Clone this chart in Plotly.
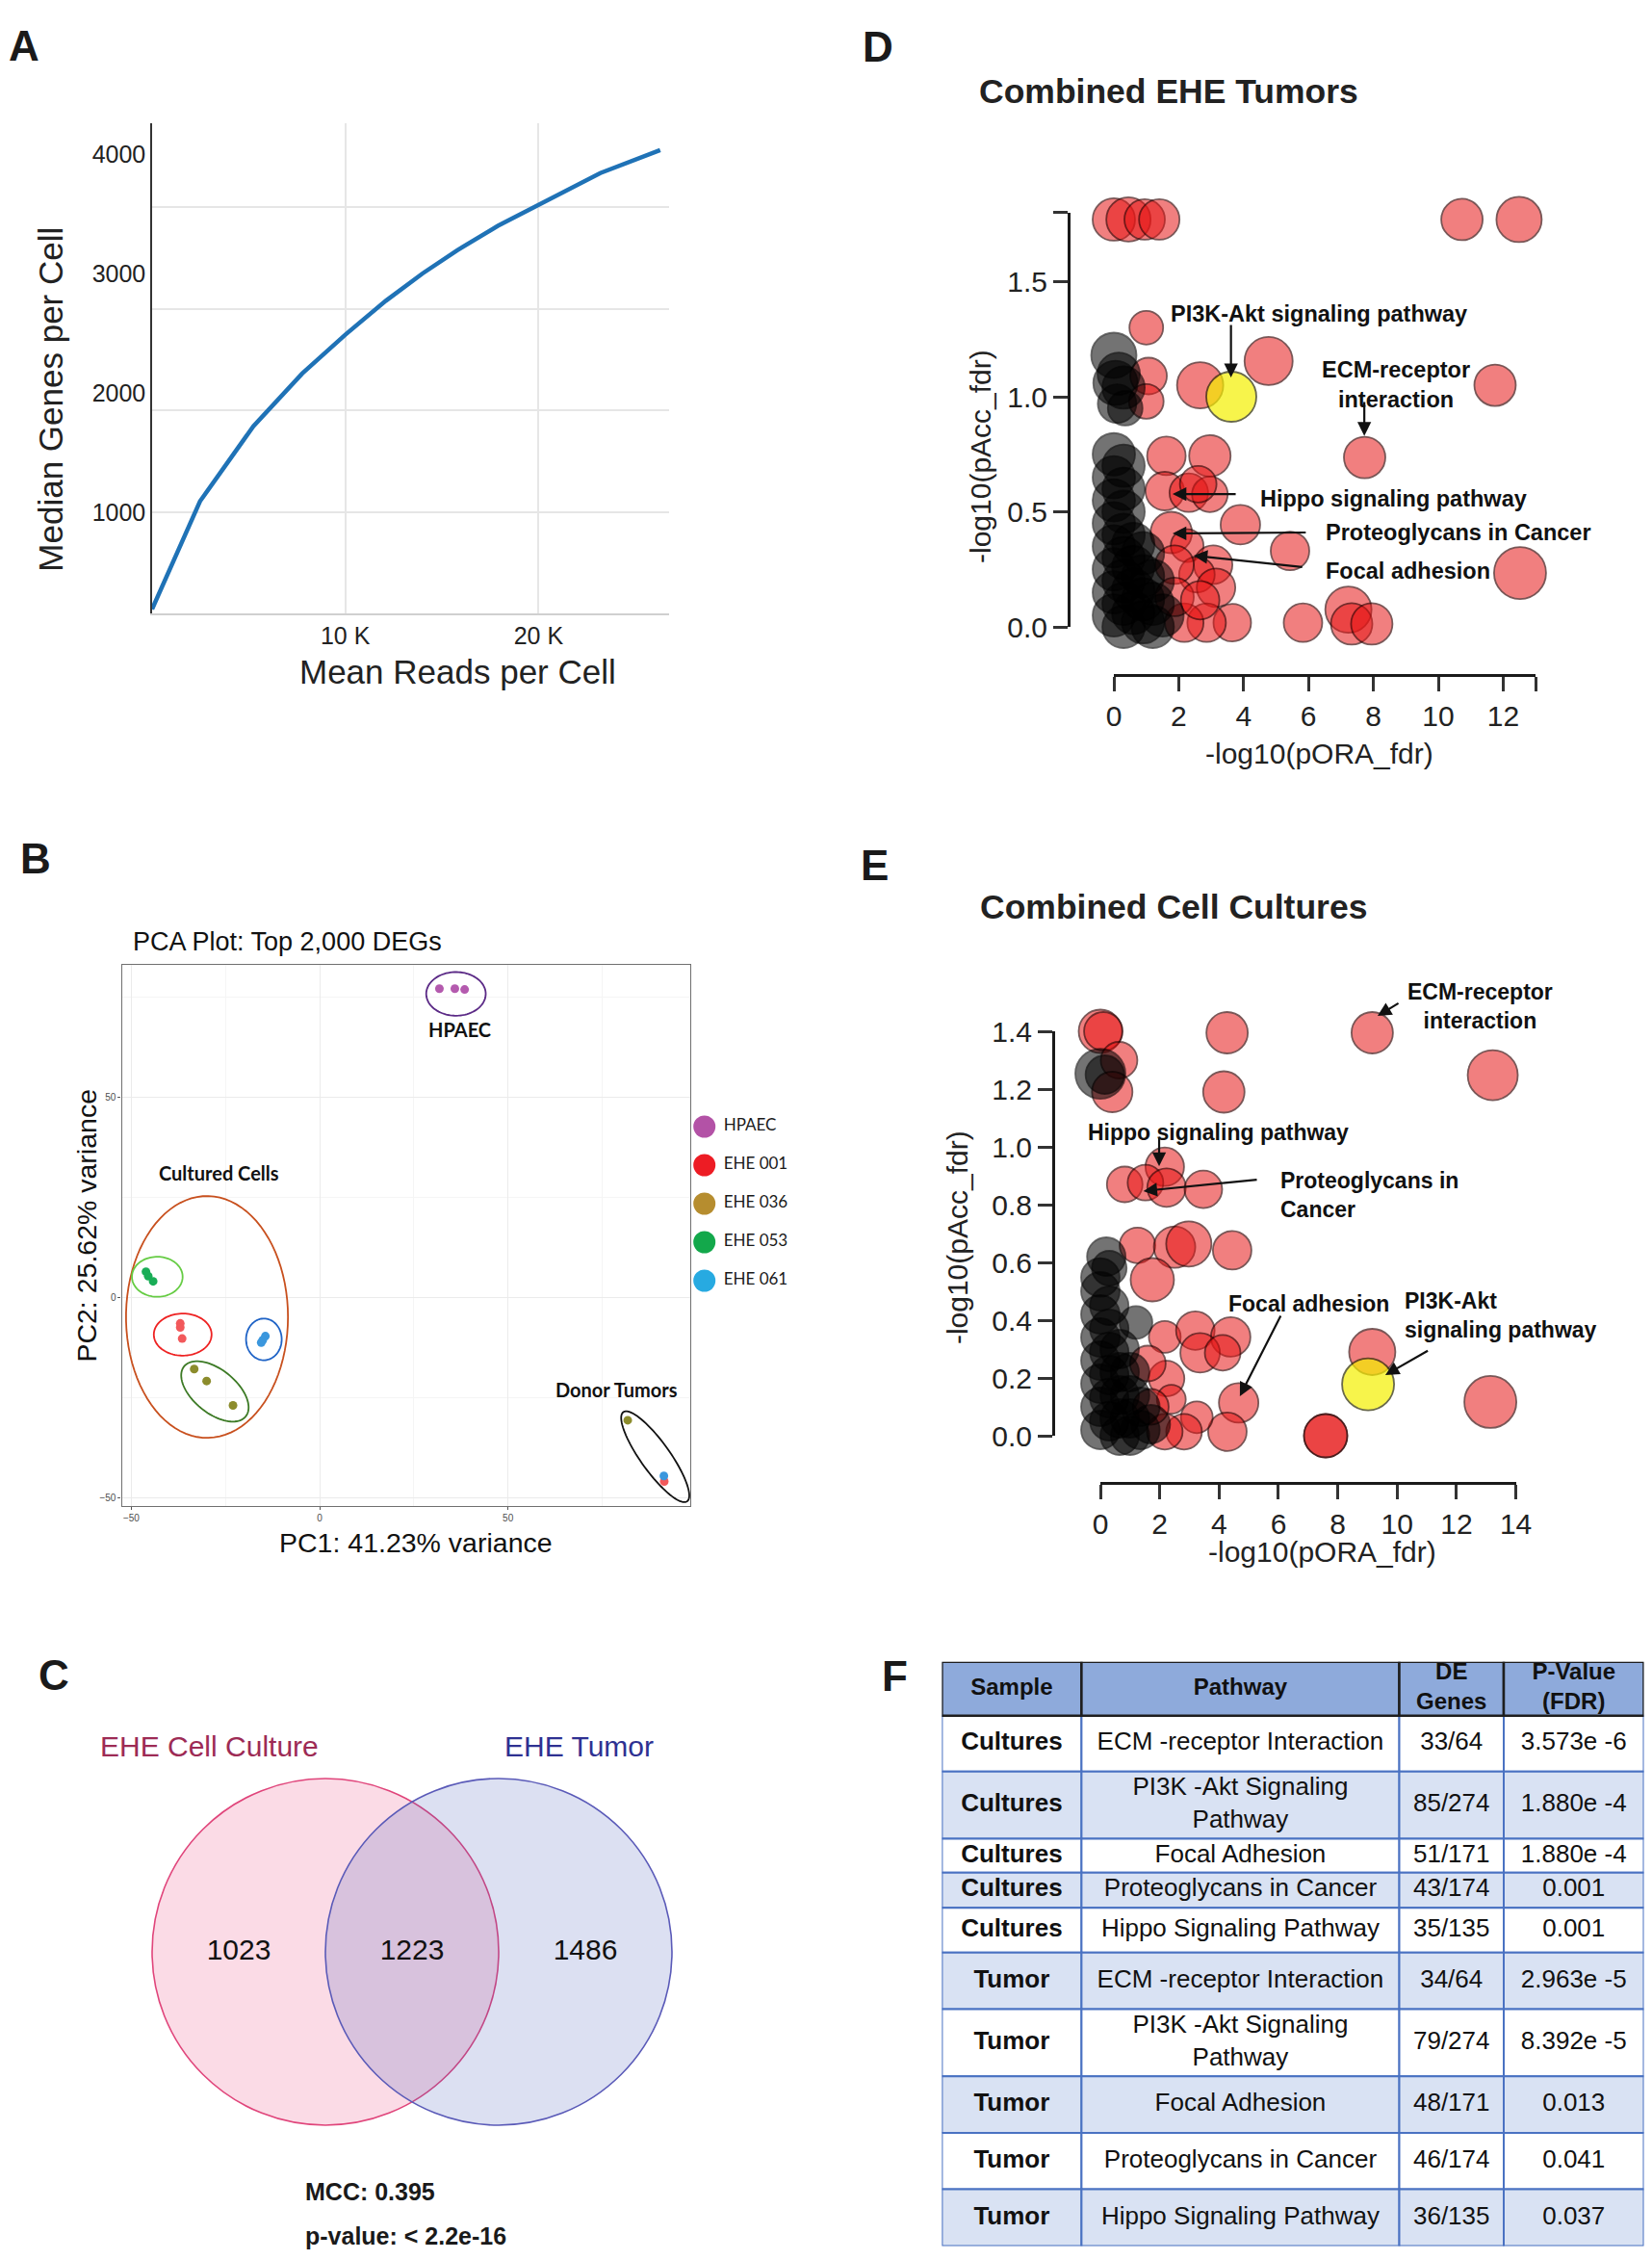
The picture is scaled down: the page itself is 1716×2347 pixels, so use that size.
import numpy as np
import plotly.graph_objects as go

# The page body keeps its default 8 px margin, so the figure is placed 8 px in
# from the top-left corner; all reference pixel positions are corrected for it.
OFF = 8
FIG_W, FIG_H = 1700, 2331
def px(v): return (v - OFF) / FIG_W
def py(v): return 1 - (v - OFF) / FIG_H

ARIAL = "Liberation Sans, Arial, sans-serif"
CALIBRI = "Lato, Carlito, sans-serif"
INK = "#222222"

# ======================= DATA =======================
# A: sequencing saturation curve
reads_per_cell = [0, 2480, 5240, 7770, 10000, 12100, 14000, 15800, 17900, 20000, 20900, 23200, 26300]
median_genes = [188, 1092, 1720, 2162, 2487, 2771, 3000, 3195, 3399, 3576, 3657, 3841, 4033]
a_ytick_vals = [1000, 2000, 3000, 4000]
a_xtick_vals = [10000, 20000]
a_xtick_text = ["10 K", "20 K"]

# B: PCA
pca_groups = ["HPAEC", "EHE 001", "EHE 036", "EHE 053", "EHE 061"]
hpaec_pc1 = [31.8, 35.9, 38.5]
hpaec_pc2 = [77.2, 77.2, 77.0]
ehe001_pc1 = [-37.0, -37.0, -36.5, 91.5]
ehe001_pc2 = [-6.4, -7.4, -10.2, -45.9]
ehe036_pc1 = [-33.3, -30.0, -23.0, 81.8]
ehe036_pc2 = [-17.8, -20.8, -26.9, -30.6]
ehe053_pc1 = [-46.1, -45.5, -44.2]
ehe053_pc2 = [6.5, 5.4, 4.1]
ehe061_pc1 = [-14.4, -15.1, -15.5, 91.4]
ehe061_pc2 = [-9.6, -10.6, -11.2, -44.5]
pca_ticks = [-50, 0, 50]

# C: Venn
venn_sets = ["EHE Cell Culture", "EHE Tumor"]
venn_counts = [1023, 1223, 1486]   # culture only, shared, tumor only
venn_stats = ["MCC: 0.395", "p-value: < 2.2e-16"]

# D: Combined EHE Tumors bubbles
d_red_x = [0.0, 0.45, 0.95, 1.4, 10.73, 12.49,
           1.0, 1.07, 1.0, 2.66, 4.77, 11.75,
           7.73, 1.62, 2.96, 1.57, 2.31, 2.96, 2.6, 3.9, 5.43, 12.52,
           1.77, 2.26, 3.06, 2.56, 3.15, 1.87, 3.65, 2.86, 2.17, 1.87, 2.66, 5.83, 7.23, 7.33, 7.95]
d_red_y = [1.77, 1.77, 1.77, 1.77, 1.77, 1.77,
           1.30, 1.09, 0.98, 1.05, 1.155, 1.05,
           0.736, 0.743, 0.743, 0.59, 0.583, 0.576, 0.62, 0.444, 0.33, 0.234,
           0.41, 0.353, 0.27, 0.227, 0.17, 0.27, 0.018, 0.018, 0.018, 0.13, 0.116, 0.018, 0.075, 0.013, 0.013]
d_red_s = [44, 46, 42, 42, 43, 47,
           35, 38, 36, 48, 50, 43,
           43, 40, 43, 40, 40, 37, 38, 41, 40, 54,
           43, 34, 40, 37, 40, 40, 39, 40, 40, 40, 40, 40, 48, 43, 43]
d_blk_x = [-0.16, 0.0, 0.05, 0.3, 0.1, 0.35, 0.15,
           -0.3, -0.3, -0.3, -0.3, -0.3, -0.3, -0.3, -0.3,
           0.0, 0.0, 0.0, 0.0, 0.0, 0.0, 0.0, 0.0, 0.0,
           0.3, 0.3, 0.3, 0.3, 0.3, 0.3, 0.3, 0.3,
           0.6, 0.6, 0.6, 0.6, 0.6,
           0.9, 0.9, 0.9, 0.9,
           1.2, 1.2, 1.2, 1.5, -0.35]
d_blk_y = [1.33, 1.18, 1.06, 1.04, 0.97, 0.95, 1.1,
           0.7, 0.6, 0.5, 0.4, 0.3, 0.2, 0.1, 0.0,
           0.75, 0.65, 0.55, 0.45, 0.35, 0.25, 0.15, 0.05, -0.04,
           0.7, 0.6, 0.5, 0.4, 0.3, 0.2, 0.1, 0.0,
           0.36, 0.26, 0.16, 0.06, -0.03,
           0.32, 0.22, 0.12, 0.02,
           0.2, 0.1, 0.0, 0.05, -0.03]
d_blk_s = [47, 47, 46, 44, 40, 36, 44,
           44, 44, 44, 44, 44, 44, 44, 44,
           44, 44, 44, 44, 44, 44, 44, 44, 44,
           44, 44, 44, 44, 44, 44, 44, 44,
           44, 44, 44, 44, 44,
           44, 44, 44, 44,
           44, 44, 44, 44, 48]
d_yel_x = [3.62]
d_yel_y = [1.0]
d_yel_s = [52]

# E: Combined Cell Cultures bubbles
e_red_x = [0.0, 0.1, 0.68, 0.63, 0.4, 4.27, 4.16, 9.16, 13.22,
           2.17, 0.82, 1.52, 2.23, 3.47, 1.25, 2.5, 2.98, 4.44, 1.75,
           2.17, 3.2, 4.39, 3.36, 4.12, 2.23, 4.66, 4.28, 3.25, 2.39, 2.82, 2.17, 1.7, 1.6,
           9.16, 13.14, 7.59, 7.59]
e_red_y = [1.40, 1.40, 1.41, 1.30, 1.19, 1.395, 1.19, 1.395, 1.248,
           0.931, 0.87, 0.876, 0.859, 0.853, 0.659, 0.653, 0.664, 0.642, 0.54,
           0.342, 0.364, 0.342, 0.287, 0.287, 0.198, 0.114, 0.014, 0.064, 0.126, 0.014, 0.014, 0.1, 0.25,
           0.29, 0.117, 0.0, 0.0]
e_red_s = [45, 40, 42, 38, 42, 43, 43, 43, 52,
           40, 37, 37, 40, 39, 37, 43, 47, 40, 45,
           33, 40, 41, 41, 37, 37, 41, 40, 33, 30, 37, 37, 37, 37,
           48, 54, 45, 45]
e_blk_x = [0.0, 0.15, -0.15, -0.1, -0.1, 0.2, 0.0, 0.3, 1.2, -0.42,
           -0.3, -0.3, -0.3, -0.3, -0.3, -0.3, -0.3,
           0.0, 0.0, 0.0, 0.0, 0.0, 0.0, 0.0,
           0.3, 0.3, 0.3, 0.3, 0.3, 0.3, 0.3,
           0.65, 0.65, 0.65, 0.65, 0.65,
           1.0, 1.0, 1.0, 1.0,
           1.35, 1.35, 1.7]
e_blk_y = [1.253, 1.25, 0.87, 0.77, 0.648, 0.62, 0.548, 0.58, 0.392, -0.008,
           0.45, 0.37, 0.29, 0.21, 0.13, 0.05, -0.01,
           0.5, 0.42, 0.34, 0.26, 0.18, 0.10, 0.02,
           0.45, 0.37, 0.29, 0.21, 0.13, 0.05, -0.01,
           0.3, 0.22, 0.14, 0.06, 0.0,
           0.22, 0.14, 0.06, 0.0,
           0.1, 0.02, 0.04]
e_blk_s = [52, 40, 37, 40, 53, 40, 40, 36, 34, 46,
           40, 40, 40, 40, 40, 40, 40,
           40, 40, 40, 40, 40, 40, 40,
           40, 40, 40, 40, 40, 40, 40,
           40, 40, 40, 40, 40,
           40, 40, 40, 40,
           40, 40, 40]
e_yel_x = [9.02]
e_yel_y = [0.178]
e_yel_s = [54]

# F: table
tbl_header = ["Sample", "Pathway", "DE<br>Genes", "P-Value<br>(FDR)"]
tbl_sample = ["Cultures", "Cultures", "Cultures", "Cultures", "Cultures",
              "Tumor", "Tumor", "Tumor", "Tumor", "Tumor"]
tbl_pathway = ["ECM -receptor Interaction", "PI3K -Akt Signaling<br>Pathway", "Focal Adhesion",
               "Proteoglycans in Cancer", "Hippo Signaling Pathway",
               "ECM -receptor Interaction", "PI3K -Akt Signaling<br>Pathway", "Focal Adhesion",
               "Proteoglycans in Cancer", "Hippo Signaling Pathway"]
tbl_de = ["33/64", "85/274", "51/171", "43/174", "35/135",
          "34/64", "79/274", "48/171", "46/174", "36/135"]
tbl_p = ["3.573e -6", "1.880e -4", "1.880e -4", "0.001", "0.001",
         "2.963e -5", "8.392e -5", "0.013", "0.041", "0.037"]

# ======================= STYLE / LAYOUT CONSTANTS =======================
pt_colors = {"HPAEC": "#b45aae", "EHE 001": "#f2595b", "EHE 036": "#8c8c2c",
             "EHE 053": "#19ad56", "EHE 061": "#3b97dd"}
leg_colors = {"HPAEC": "#b352a6", "EHE 001": "#ed1c24", "EHE 036": "#b68d2f",
              "EHE 053": "#13a84b", "EHE 061": "#27aae1"}

# pixel geometry of the two bubble panels (origin px, px per unit)
D_X0, D_XS, D_Y0, D_YS = 1157.0, 33.7, 651.0, 239.0
E_X0, E_XS, E_Y0, E_YS = 1143.0, 30.83, 1491.0, 300.0

fig = go.Figure()

# ---------------- Panel A ----------------
fig.add_trace(go.Scatter(x=reads_per_cell, y=median_genes, xaxis="x", yaxis="y2",
                         mode="lines", line=dict(width=0, color="rgba(0,0,0,0)"),
                         hoverinfo="skip", showlegend=False))
fig.add_trace(go.Scatter(x=reads_per_cell, y=median_genes, xaxis="x", yaxis="y",
                         mode="lines", line=dict(color="#1f72b6", width=4.5),
                         hoverinfo="skip", showlegend=False))

# ---------------- Panel B ----------------
pca_x = [hpaec_pc1, ehe001_pc1, ehe036_pc1, ehe053_pc1, ehe061_pc1]
pca_y = [hpaec_pc2, ehe001_pc2, ehe036_pc2, ehe053_pc2, ehe061_pc2]
for g, xs, ys in zip(pca_groups, pca_x, pca_y):
    fig.add_trace(go.Scatter(x=xs, y=ys, xaxis="x3", yaxis="y3", mode="markers",
                             marker=dict(size=9, color=pt_colors[g]), name=g,
                             hoverinfo="skip", showlegend=False))
leg_idx = list(range(len(pca_groups)))
fig.add_trace(go.Scatter(x=[11.7] * len(pca_groups), y=leg_idx, xaxis="x4", yaxis="y4",
                         mode="markers", marker=dict(size=23, color=[leg_colors[g] for g in pca_groups]),
                         hoverinfo="skip", showlegend=False, cliponaxis=False))
fig.add_trace(go.Scatter(x=[31.7] * len(pca_groups), y=leg_idx, xaxis="x4", yaxis="y4",
                         mode="text", text=pca_groups, textposition="middle right",
                         textfont=dict(family=CALIBRI, size=17, color="#1a1a1a"),
                         hoverinfo="skip", showlegend=False, cliponaxis=False))

def ellipse_path(cx, cy, a, b, ang_deg, n=90):
    t = np.linspace(0, 2 * np.pi, n)
    th = np.radians(ang_deg)
    xs = cx + a * np.cos(th) * np.cos(t) - b * np.sin(th) * np.sin(t)
    ys = cy + a * np.sin(th) * np.cos(t) + b * np.cos(th) * np.sin(t)
    return "M " + " L ".join(f"{x:.3f},{y:.3f}" for x, y in zip(xs, ys)) + " Z"

b_ellipses = [
    (36.2, 75.9, 7.9, 5.45, 0, "#5b2a86"),
    (-29.9, -4.8, 21.5, 30.2, 0, "#c8501e"),
    (-43.1, 5.24, 6.73, 5.0, 0, "#66cc44"),
    (-36.35, -9.2, 7.67, 5.25, 0, "#ee2222"),
    (-14.8, -10.4, 4.73, 5.2, 0, "#1f63c6"),
    (-27.8, -23.4, 10.3, 5.55, -36, "#3c7a25"),
    (89.1, -39.7, 14.0, 3.8, -52.5, "#111111"),
]
shapes = []
for cx, cy, a, b, ang, col in b_ellipses:
    shapes.append(dict(type="path", xref="x3", yref="y3", path=ellipse_path(cx, cy, a, b, ang),
                       line=dict(color=col, width=1.8), fillcolor="rgba(0,0,0,0)"))

# ---------------- Panel C (Venn) ----------------
venn_r = 180
venn_cx = [338, 518]
venn_cy = 2027
venn_fill = ["rgba(233,30,99,0.16)", "rgba(63,81,181,0.18)"]
venn_line = ["#e0457b", "#5a5ab8"]
for cx, fc, lc in zip(venn_cx, venn_fill, venn_line):
    shapes.append(dict(type="circle", xref="x5", yref="y5", x0=cx - venn_r, x1=cx + venn_r,
                       y0=venn_cy - venn_r, y1=venn_cy + venn_r, fillcolor=fc,
                       line=dict(color=lc, width=1.6), layer="below"))
region_x = [(venn_cx[0] - venn_r + venn_cx[1] - venn_r) / 2, (venn_cx[0] + venn_cx[1]) / 2,
            (venn_cx[0] + venn_r + venn_cx[1] + venn_r) / 2]
fig.add_trace(go.Scatter(x=region_x, y=[venn_cy] * 3, xaxis="x5", yaxis="y5", mode="text",
                         text=[str(v) for v in venn_counts], textposition="middle center",
                         textfont=dict(family=ARIAL, size=30, color="#111111"),
                         hoverinfo="skip", showlegend=False, cliponaxis=False))

# ---------------- Panels D, E (bubbles) ----------------
RED = "rgba(230,20,20,0.77)"
RED_LINE = "rgba(45,0,0,0.9)"
BLK = "rgba(0,0,0,0.78)"
def bubbles(xs, ys, ss, color, line, xa, ya):
    return go.Scatter(x=xs, y=ys, xaxis=xa, yaxis=ya, mode="markers",
                      marker=dict(size=ss, color=color, line=dict(color=line, width=1.8)),
                      hoverinfo="skip", showlegend=False, cliponaxis=False)
fig.add_trace(bubbles(d_red_x, d_red_y, d_red_s, RED, RED_LINE, "x6", "y6"))
fig.add_trace(bubbles(d_blk_x, d_blk_y, d_blk_s, BLK, "rgba(0,0,0,0.8)", "x6", "y6"))
fig.add_trace(bubbles(d_yel_x, d_yel_y, d_yel_s, "#f5f000", "#2a2a00", "x6", "y6"))
fig.add_trace(bubbles(e_red_x, e_red_y, e_red_s, RED, RED_LINE, "x7", "y7"))
fig.add_trace(bubbles(e_blk_x, e_blk_y, e_blk_s, BLK, "rgba(0,0,0,0.8)", "x7", "y7"))
fig.add_trace(bubbles(e_yel_x, e_yel_y, e_yel_s, "#f5f000", "#2a2a00", "x7", "y7"))

# ---------------- Panel F (table grid) ----------------
tbl_col_w = [145.0, 330.1, 108.5, 145.5]
tbl_row_h = [56.0, 58.1, 69.7, 35.2, 36.5, 46.5, 58.9, 69.6, 58.8, 58.6, 58.9]
cum_w = np.concatenate([[0], np.cumsum(tbl_col_w)])
cum_h = np.concatenate([[0], np.cumsum(tbl_row_h)])
TBL_W, TBL_H = float(cum_w[-1]), float(cum_h[-1])
for r in range(1, len(tbl_row_h)):
    fill = "#ffffff" if (r % 2 == 1) else "#d9e2f3"
    for c in range(4):
        shapes.append(dict(type="rect", xref="x8", yref="y8", x0=cum_w[c], x1=cum_w[c + 1],
                           y0=cum_h[r], y1=cum_h[r + 1], fillcolor=fill, layer="below",
                           line=dict(color="#4a72c2", width=2)))
for c in range(4):
    shapes.append(dict(type="rect", xref="x8", yref="y8", x0=cum_w[c], x1=cum_w[c + 1],
                       y0=cum_h[0], y1=cum_h[1], fillcolor="#8eaadb", layer="below",
                       line=dict(color="#1e1e1e", width=2.5)))
col_cx = [(cum_w[i] + cum_w[i + 1]) / 2 for i in range(4)]
row_cy = [(cum_h[i] + cum_h[i + 1]) / 2 for i in range(len(tbl_row_h))]
fig.add_trace(go.Scatter(x=col_cx, y=[row_cy[0]] * 4, xaxis="x8", yaxis="y8", mode="text",
                         text=tbl_header, textposition="middle center",
                         textfont=dict(family=ARIAL, size=24, color="#111", weight="bold"),
                         hoverinfo="skip", showlegend=False, cliponaxis=False))
fig.add_trace(go.Scatter(x=[col_cx[0]] * len(tbl_sample), y=row_cy[1:], xaxis="x8", yaxis="y8",
                         mode="text", text=tbl_sample, textposition="middle center",
                         textfont=dict(family=ARIAL, size=26, color="#111", weight="bold"),
                         hoverinfo="skip", showlegend=False, cliponaxis=False))
body_x, body_y, body_t = [], [], []
for col, vals in zip(col_cx[1:], [tbl_pathway, tbl_de, tbl_p]):
    body_x += [col] * len(vals)
    body_y += row_cy[1:]
    body_t += vals
fig.add_trace(go.Scatter(x=body_x, y=body_y, xaxis="x8", yaxis="y8", mode="text", text=body_t,
                         textposition="middle center",
                         textfont=dict(family=ARIAL, size=26, color="#111"),
                         hoverinfo="skip", showlegend=False, cliponaxis=False))

# ======================= ANNOTATIONS =======================
ann = []
def txt(t, x, y, size, xref="paper", yref="paper", xanchor="center", bold=False, color=INK,
        angle=0, family=ARIAL, align="center"):
    ann.append(dict(text=t, x=x, y=y, xref=xref, yref=yref, xanchor=xanchor, yanchor="middle",
                    showarrow=False, textangle=angle, align=align,
                    font=dict(family=family, size=size, color=color, weight="bold" if bold else "normal")))

for lab, x, y in [("A", 25, 47), ("B", 36.6, 891.7), ("C", 55.8, 1739.4),
                  ("D", 912, 48.7), ("E", 908, 898.5), ("F", 929, 1741)]:
    txt(lab, px(x), py(y), 44, bold=True, color="#1a1a1a")

# A titles
txt("Median Genes per Cell", px(51.7), py(415), 35, angle=-90)
txt("Mean Reads per Cell", px(476), py(698), 35)
# B titles
txt("PCA Plot: Top 2,000 DEGs", px(136.4), py(978), 27, xanchor="left", color="#111")
txt("PC1: 41.23% variance", px(432), py(1601.8), 28.5, color="#111")
txt("PC2: 25.62% variance", px(90), py(1272.6), 28.5, angle=-90, color="#111")
for t, x, y in [("HPAEC", 37.3, 67.1), ("Cultured Cells", -26.8, 31.2), ("Donor Tumors", 78.9, -22.8)]:
    txt(t, x, y, 20, xref="x3", yref="y3", bold=True, family=CALIBRI, color="#111")
# C texts
txt(venn_sets[0], 217, 1813, 30, xref="x5", yref="y5", color="#9d2b55")
txt(venn_sets[1], 601, 1813, 30, xref="x5", yref="y5", color="#2e3192")
txt(venn_stats[0], 315, 2276, 25, xref="x5", yref="y5", xanchor="left", bold=True, color="#1a1a1a")
txt(venn_stats[1], 315, 2322, 25, xref="x5", yref="y5", xanchor="left", bold=True, color="#1a1a1a")
# D / E titles
txt("Combined EHE Tumors", px(1015), py(95), 35.5, xanchor="left", bold=True)
txt("-log10(pAcc_fdr)", px(1019), py(474), 30, angle=-90)
txt("-log10(pORA_fdr)", px(1370), py(782), 30)
txt("Combined Cell Cultures", px(1016.4), py(942), 35.5, xanchor="left", bold=True)
txt("-log10(pAcc_fdr)", px(994.5), py(1285.6), 30, angle=-90)
txt("-log10(pORA_fdr)", px(1373), py(1611), 30)

# pathway call-outs, given in data units of each panel
d_labels = [("PI3K-Akt signaling pathway", 6.31, 1.36, "center"),
            ("ECM-receptor<br>interaction", 8.69, 1.054, "center"),
            ("Hippo signaling pathway", 4.45, 0.556, "left"),
            ("Proteoglycans in Cancer", 6.47, 0.41, "left"),
            ("Focal adhesion", 6.47, 0.243, "left")]
e_labels = [("ECM-receptor<br>interaction", 12.78, 1.485, "center"),
            ("Hippo signaling pathway", 3.96, 1.05, "center"),
            ("Proteoglycans in<br>Cancer", 6.0, 0.833, "left"),
            ("Focal adhesion", 7.02, 0.457, "center"),
            ("PI3K-Akt<br>signaling pathway", 10.18, 0.417, "left")]
d_arrows = [(3.61, 1.084, 3.61, 1.318), (7.72, 0.83, 7.72, 0.983), (1.81, 0.577, 3.80, 0.577),
            (1.81, 0.406, 5.96, 0.41), (2.46, 0.31, 5.85, 0.259)]
e_arrows = [(9.34, 1.453, 10.09, 1.50), (1.98, 0.933, 1.98, 1.035), (1.45, 0.847, 5.32, 0.887),
            (4.70, 0.137, 6.10, 0.42), (9.6, 0.21, 11.08, 0.297)]
for labels, arrows, (X0, XS, Y0, YS), fsz in [(d_labels, d_arrows, (D_X0, D_XS, D_Y0, D_YS), 23.5),
                                               (e_labels, e_arrows, (E_X0, E_XS, E_Y0, E_YS), 23)]:
    for t, x, y, anc in labels:
        txt(t, px(X0 + x * XS), py(Y0 - y * YS), fsz, xanchor=anc, bold=True, color="#111", align=anc)
    for hx, hy, tx, ty in arrows:
        hpx, hpy = X0 + hx * XS, Y0 - hy * YS
        tpx, tpy = X0 + tx * XS, Y0 - ty * YS
        ann.append(dict(text="", x=px(hpx), y=py(hpy), xref="paper", yref="paper",
                        ax=tpx - hpx, ay=tpy - hpy, axref="pixel", ayref="pixel",
                        showarrow=True, arrowhead=2, arrowsize=1.3, arrowwidth=2.2,
                        arrowcolor="#111", standoff=0, startstandoff=0))

# ======================= AXES =======================
hidden = dict(visible=False, showgrid=False, zeroline=False)
prism_tick = dict(family=ARIAL, size=30, color=INK)
prism = dict(showline=True, linecolor="#1a1a1a", linewidth=3, ticks="outside", ticklen=15, tickwidth=3,
             tickcolor="#333", showgrid=False, zeroline=False, tickfont=prism_tick)
layout_axes = dict(
    # A
    xaxis=dict(domain=[px(158), px(695)], range=[0, 26760], anchor="y", tickvals=a_xtick_vals,
               ticktext=a_xtick_text, showgrid=True, gridcolor="#e6e6e6", gridwidth=1.5,
               showline=True, linecolor="#d0d0d0", linewidth=1.5, ticks="", zeroline=False,
               tickfont=dict(family=ARIAL, size=25, color=INK)),
    yaxis=dict(domain=[py(637), py(128)], range=[153, 4258], anchor="x", tickvals=a_ytick_vals,
               showgrid=False, showline=True, linecolor="#333", linewidth=1.5, ticks="",
               zeroline=False, tickfont=dict(family=ARIAL, size=25, color=INK)),
    yaxis2=dict(overlaying="y", anchor="x", range=[6.6, 4823], tickvals=a_ytick_vals,
                showgrid=True, gridcolor="#e6e6e6", gridwidth=1.5, showticklabels=False,
                showline=False, zeroline=False, ticks=""),
    # B
    xaxis3=dict(domain=[px(126.6), px(717)], range=[-52.5, 98.4], anchor="y3", tickvals=pca_ticks,
                ticks="outside", ticklen=3, tickcolor="#555", tickfont=dict(family=ARIAL, size=10, color="#4d4d4d"),
                showgrid=True, gridcolor="#ebebeb", gridwidth=1.3,
                minor=dict(tickmode="array", tickvals=[-25, 25, 75], showgrid=True, gridcolor="#f5f5f5", gridwidth=1),
                showline=True, mirror=True, linecolor="#707070", linewidth=1.3, zeroline=False),
    yaxis3=dict(domain=[py(1563.9), py(1002.2)], range=[-52, 83.1], anchor="x3", tickvals=pca_ticks,
                ticks="outside", ticklen=3, tickcolor="#555", tickfont=dict(family=ARIAL, size=10, color="#4d4d4d"),
                showgrid=True, gridcolor="#ebebeb", gridwidth=1.3,
                minor=dict(tickmode="array", tickvals=[-25, 25, 75], showgrid=True, gridcolor="#f5f5f5", gridwidth=1),
                showline=True, mirror=True, linecolor="#707070", linewidth=1.3, zeroline=False),
    xaxis4=dict(domain=[px(720), px(830)], range=[0, 110], anchor="y4", **hidden),
    yaxis4=dict(domain=[py(1350), py(1150)], range=[4.5, -0.5], anchor="x4", **hidden),
    # C
    xaxis5=dict(domain=[px(130), px(730)], range=[130, 730], anchor="y5", **hidden),
    yaxis5=dict(domain=[py(2330), py(1790)], range=[2330, 1790], anchor="x5", **hidden),
    # D
    xaxis6=dict(domain=[px(D_X0), px(D_X0 + 13 * D_XS)], range=[0, 13], anchor="free", position=py(701),
                tickvals=[0, 2, 4, 6, 8, 10, 12, 13], ticktext=["0", "2", "4", "6", "8", "10", "12", ""],
                **prism),
    yaxis6=dict(domain=[py(D_Y0), py(D_Y0 - 1.8 * D_YS)], range=[0, 1.8], anchor="free", position=px(1110),
                tickvals=[0, 0.5, 1.0, 1.5, 1.8], ticktext=["0.0", "0.5", "1.0", "1.5", ""], **prism),
    # E
    xaxis7=dict(domain=[px(E_X0), px(E_X0 + 14 * E_XS)], range=[0, 14], anchor="free", position=py(1539.5),
                tickvals=[0, 2, 4, 6, 8, 10, 12, 14], **prism),
    yaxis7=dict(domain=[py(E_Y0), py(E_Y0 - 1.4 * E_YS)], range=[0, 1.4], anchor="free", position=px(1094),
                tickvals=[0, 0.2, 0.4, 0.6, 0.8, 1.0, 1.2, 1.4], tickformat=".1f", **prism),
    # F
    xaxis8=dict(domain=[px(978.4), px(978.4 + TBL_W)], range=[0, TBL_W], anchor="y8", **hidden),
    yaxis8=dict(domain=[py(1725.7 + TBL_H), py(1725.7)], range=[TBL_H, 0], anchor="x8", **hidden),
)

fig.update_layout(width=FIG_W, height=FIG_H, margin=dict(l=0, r=0, t=0, b=0),
                  paper_bgcolor="white", plot_bgcolor="white", showlegend=False,
                  template="none", font=dict(family=ARIAL, color=INK),
                  shapes=shapes, annotations=ann, **layout_axes)

fig.write_html("out.html")
